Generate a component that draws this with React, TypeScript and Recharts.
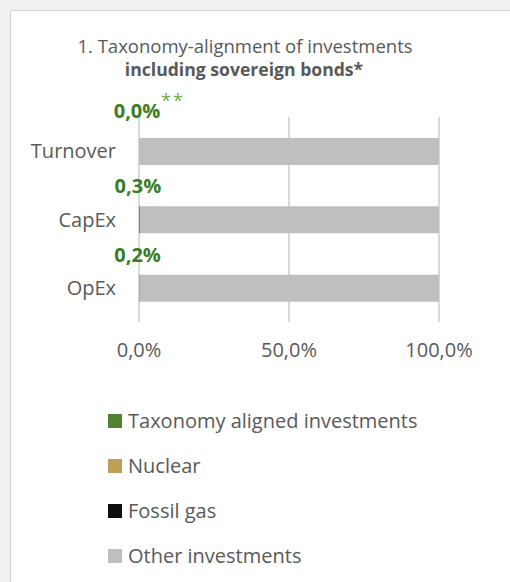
import React from "react";
import {
  BarChart,
  Bar,
  XAxis,
  YAxis,
  CartesianGrid,
  LabelList,
  Legend,
} from "recharts";

// ---- data ----
const categories = ["Turnover", "CapEx", "OpEx"];
const taxonomyAligned = [0.0, 0.3, 0.2];
const nuclear = [0, 0, 0];
const fossilGas = [0, 0, 0];
const otherInvestments = [100, 99.7, 99.8];
const xTicks = [0, 50, 100];
const labelNotes = ["**", "", ""];
const seriesNames = [
  "Taxonomy aligned investments",
  "Nuclear",
  "Fossil gas",
  "Other investments",
];
const titleLine1 = "1. Taxonomy-alignment of investments";
const titleLine2 = "including sovereign bonds*";

const data = categories.map((name, i) => ({
  name,
  taxonomy: taxonomyAligned[i],
  nuclear: nuclear[i],
  fossil: fossilGas[i],
  other: otherInvestments[i],
}));

const FONT = "'Open Sans', 'DejaVu Sans', sans-serif";
const TEXT = "#595959";
const GREEN = "#548235";
const LABEL_GREEN = "#3a7d22";
const NOTE_GREEN = "#70ad47";
const NUCLEAR = "#bf9f58";
const FOSSIL = "#0d0d0d";
const OTHER = "#bfbfbf";

const fmt = (v: number) => v.toFixed(1).replace(".", ",") + "%";

// Label for the taxonomy-aligned share, drawn at the start of the stack
// (anchored on the "other" segment, which always has a width).
const renderLabel = (props: any) => {
  const vb = props.viewBox || {};
  const x = (props.x ?? vb.x) as number;
  const y = (props.y ?? vb.y) as number;
  let idx = props.index;
  if (idx == null) idx = 0;
  const value = Number(props.value);
  const note = labelNotes[idx] || "";
  const cx = x - 2;
  const baseline = note ? y - 20 : y - 13;
  return (
    <g>
      <text
        x={cx}
        y={baseline}
        textAnchor="middle"
        fontFamily={FONT}
        fontSize={20}
        fontWeight="bold"
        fill={LABEL_GREEN}
      >
        {fmt(value)}
      </text>
      {note ? (
        <text
          x={cx + 24}
          y={baseline - 11}
          textAnchor="start"
          fontFamily={FONT}
          fontSize={18}
          letterSpacing={2}
          fill={NOTE_GREEN}
        >
          {note}
        </text>
      ) : null}
    </g>
  );
};

const renderLegend = (props: any) => {
  const payload = [...(props.payload || [])].sort(
    (a: any, b: any) =>
      seriesNames.indexOf(a.value) - seriesNames.indexOf(b.value)
  );
  return (
    <div style={{ fontFamily: FONT }}>
      {payload.map((entry: any, i: number) => (
        <div
          key={i}
          style={{ display: "flex", alignItems: "center", height: 45 }}
        >
          <div
            style={{
              width: 14,
              height: 14,
              background: entry.color,
              marginRight: 6,
            }}
          />
          <span style={{ fontSize: 20, color: TEXT, whiteSpace: "nowrap" }}>
            {entry.value}
          </span>
        </div>
      ))}
    </div>
  );
};

export default function App() {
  return (
    <div
      style={{
        position: "absolute",
        left: 0,
        top: 0,
        width: 510,
        height: 582,
        overflow: "hidden",
        background: "#f0f0f0",
        fontFamily: FONT,
      }}
    >
      <div
        style={{
          position: "absolute",
          left: 10,
          top: 10,
          width: 520,
          height: 600,
          background: "#ffffff",
          border: "1px solid #d4d4d4",
        }}
      />
      <svg
        width={510}
        height={100}
        style={{ position: "absolute", left: 0, top: 0 }}
      >
        <text
          x={245}
          y={53}
          textAnchor="middle"
          fontFamily={FONT}
          fontSize={18.5}
          fill={TEXT}
        >
          {titleLine1}
        </text>
        <text
          x={244}
          y={76}
          textAnchor="middle"
          fontFamily={FONT}
          fontSize={17.6}
          fontWeight="bold"
          fill={TEXT}
        >
          {titleLine2}
        </text>
      </svg>
      <div style={{ position: "absolute", left: 0, top: 0 }}>
        <BarChart
          width={510}
          height={582}
          data={data}
          layout="vertical"
          margin={{ top: 117, right: 71, left: 0, bottom: 200 }}
          barSize={27}
        >
          <CartesianGrid
            horizontal={false}
            vertical={true}
            stroke="#d9d9d9"
            strokeWidth={2}
          />
          <XAxis
            type="number"
            domain={[0, 100]}
            ticks={xTicks}
            tickFormatter={fmt}
            axisLine={false}
            tickLine={false}
            tickSize={0}
            tickMargin={21}
            height={60}
            tick={{ fill: TEXT, fontSize: 20, fontFamily: FONT }}
          />
          <YAxis
            type="category"
            dataKey="name"
            width={139}
            axisLine={false}
            tickLine={false}
            tickSize={0}
            tickMargin={23}
            tick={{ fill: TEXT, fontSize: 20, fontFamily: FONT }}
          />
          <Legend
            layout="vertical"
            align="center"
            verticalAlign="middle"
            itemSorter={null as any}
            content={renderLegend}
            wrapperStyle={{ left: 108, top: 398, width: 400 }}
          />
          <Bar
            dataKey="taxonomy"
            name={seriesNames[0]}
            stackId="a"
            fill={GREEN}
            isAnimationActive={false}
          />
          <Bar
            dataKey="nuclear"
            name={seriesNames[1]}
            stackId="a"
            fill={NUCLEAR}
            isAnimationActive={false}
          />
          <Bar
            dataKey="fossil"
            name={seriesNames[2]}
            stackId="a"
            fill={FOSSIL}
            isAnimationActive={false}
          />
          <Bar
            dataKey="other"
            name={seriesNames[3]}
            stackId="a"
            fill={OTHER}
            isAnimationActive={false}
          >
            <LabelList dataKey="taxonomy" content={renderLabel} />
          </Bar>
        </BarChart>
      </div>
    </div>
  );
}
